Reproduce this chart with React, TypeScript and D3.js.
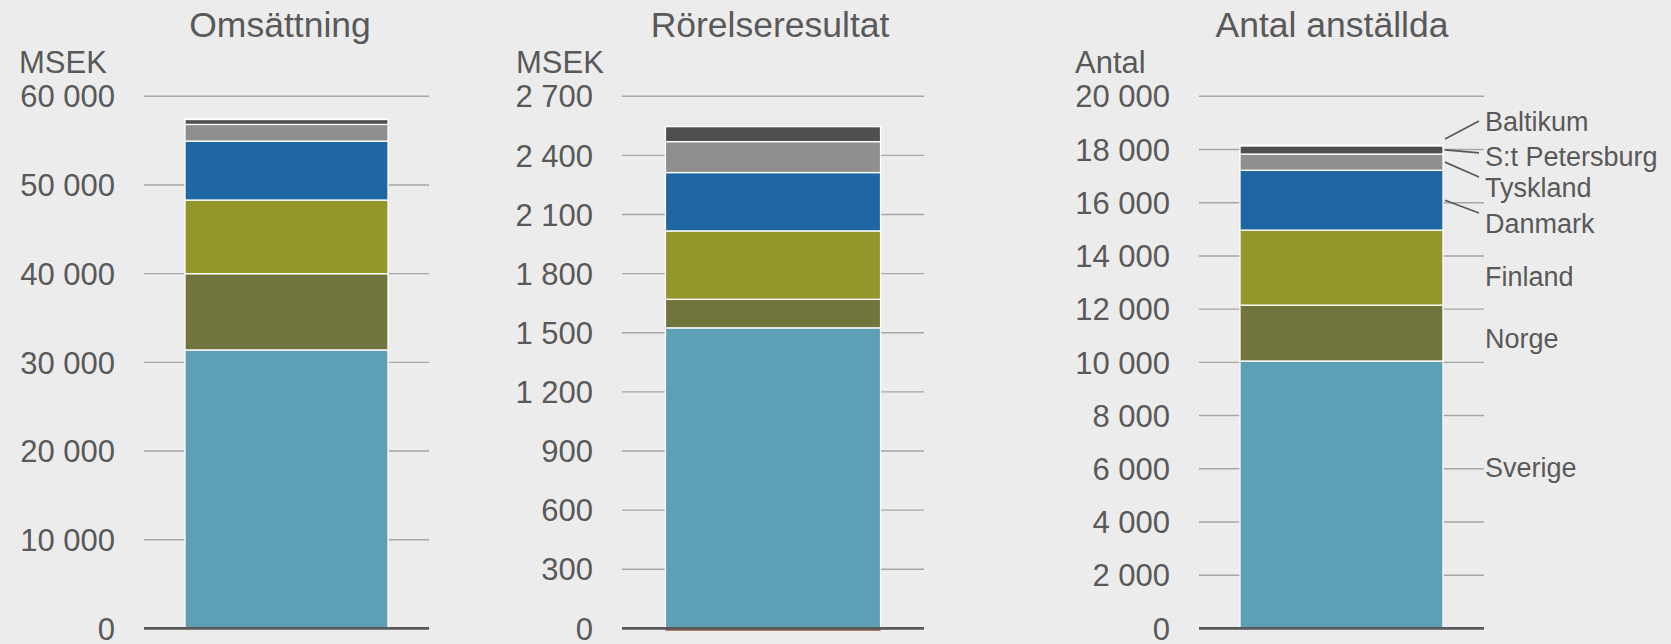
import React from "react";
import * as d3 from "d3";

// ---------- data ----------
const seriesNames = ["Sverige", "Norge", "Finland", "Danmark", "Tyskland", "S:t Petersburg", "Baltikum"];
const seriesColors = ["#5da0b5", "#71753d", "#93962a", "#1e67a3", "#8f8f8f", "#4f4f4f", "#a05a45"];

const omsattning = [31400, 8600, 8300, 6650, 1880, 560, 40]; // MSEK
const rorelseresultat = [1525, 145, 347, 296, 157, 76, -12]; // MSEK
const anstallda = [10050, 2100, 2820, 2250, 610, 310, 30]; // Antal

const omsTicks = [0, 10000, 20000, 30000, 40000, 50000, 60000];
const rorTicks = [0, 300, 600, 900, 1200, 1500, 1800, 2100, 2400, 2700];
const antTicks = [0, 2000, 4000, 6000, 8000, 10000, 12000, 14000, 16000, 18000, 20000];

const titles = ["Omsättning", "Rörelseresultat", "Antal anställda"];
const units = ["MSEK", "MSEK", "Antal"];

// label anchor values (in employees) for the series labels in the third panel
const labelAnchors = [6050, 10900, 13230, 15240, 16590, 17760, 19070];
const labelHasLeader = [false, false, false, true, true, true, true];

// ---------- layout ----------
const W = 1671;
const H = 644;
const Y_TOP = 96.3;
const Y_BOTTOM = 628.4;
const TEXT = "#595959";
const FONT = "'Liberation Sans', Arial, sans-serif";

const panels = [
  { values: omsattning, ticks: omsTicks, gx0: 144, gx1: 429, labelRight: 115, unitX: 19, titleX: 280 },
  { values: rorelseresultat, ticks: rorTicks, gx0: 622, gx1: 924, labelRight: 593, unitX: 516, titleX: 770 },
  { values: anstallda, ticks: antTicks, gx0: 1199, gx1: 1484, labelRight: 1170, unitX: 1075, titleX: 1332 },
];

const fmt = d3.formatLocale({ decimal: ",", thousands: " ", grouping: [3], currency: ["", " kr"] }).format(",");

function Panel({ idx }: { idx: number }) {
  const p = panels[idx];
  const ticks = p.ticks;
  const y = d3.scaleLinear().domain([0, ticks[ticks.length - 1]]).range([Y_BOTTOM, Y_TOP]);
  const x = d3.scaleBand<string>().domain([titles[idx]]).range([p.gx0, p.gx1]).padding(0.168);

  const row: Record<string, number> = {};
  seriesNames.forEach((s, i) => (row[s] = p.values[i]));
  const stacked = d3.stack<Record<string, number>>().keys(seriesNames).offset(d3.stackOffsetDiverging)([row]);

  const bx = x(titles[idx]) as number;
  const bw = x.bandwidth();

  return (
    <g>
      <text x={p.titleX} y={37} textAnchor="middle" fontSize={35.5} fill={TEXT} fontFamily={FONT}>
        {titles[idx]}
      </text>
      <text x={p.unitX} y={73} fontSize={31} fill={TEXT} fontFamily={FONT}>
        {units[idx]}
      </text>
      {ticks.map((t) => (
        <g key={t}>
          {t !== 0 && (
            <line x1={p.gx0} x2={p.gx1} y1={y(t)} y2={y(t)} stroke="#a6a6a6" strokeWidth={1.4} />
          )}
          <text
            x={p.labelRight}
            y={y(t)}
            dy="0.36em"
            textAnchor="end"
            fontSize={31}
            fill={TEXT}
            fontFamily={FONT}
          >
            {fmt(t)}
          </text>
        </g>
      ))}
      {stacked.map((s, i) => {
        const d = s[0];
        const y0 = y(Math.max(d[0], d[1]));
        const y1 = y(Math.min(d[0], d[1]));
        const neg = d[1] <= 0 && d[0] <= 0;
        return (
          <rect
            key={seriesNames[i]}
            x={bx}
            y={y0}
            width={bw}
            height={Math.max(0, y1 - y0)}
            fill={seriesColors[i]}
            stroke={neg ? "none" : "#ffffff"}
            strokeWidth={1.3}
          />
        );
      })}
      <line x1={p.gx0} x2={p.gx1} y1={Y_BOTTOM} y2={Y_BOTTOM} stroke="#595959" strokeWidth={2.6} />
      {idx === 2 &&
        stacked.map((s, i) => {
          const d = s[0];
          const mid = y((d[0] + d[1]) / 2);
          const ly = y(labelAnchors[i]);
          const barTop = y(d3.max(stacked, (ss) => ss[0][1]) as number);
          const lx = p.gx1 + 1;
          let sy = mid;
          if (ly < barTop) sy = barTop - 6;
          const ey = ly < sy ? ly : ly - (ly - sy > 20 ? 10 : 3);
          return (
            <g key={seriesNames[i]}>
              {labelHasLeader[i] && (
                <line x1={bx + bw + 2} y1={sy} x2={lx - 6} y2={ey} stroke="#595959" strokeWidth={1.7} />
              )}
              <text x={lx} y={ly} dy="0.36em" fontSize={27} fill={TEXT} fontFamily={FONT}>
                {seriesNames[i]}
              </text>
            </g>
          );
        })}
    </g>
  );
}

export default function App() {
  return (
    <svg
      width={W}
      height={H}
      viewBox={`0 0 ${W} ${H}`}
      style={{ position: "fixed", left: 0, top: 0, display: "block" }}
    >
      <rect x={0} y={0} width={W} height={H} fill="#ececec" />
      {panels.map((_, i) => (
        <Panel key={i} idx={i} />
      ))}
    </svg>
  );
}
